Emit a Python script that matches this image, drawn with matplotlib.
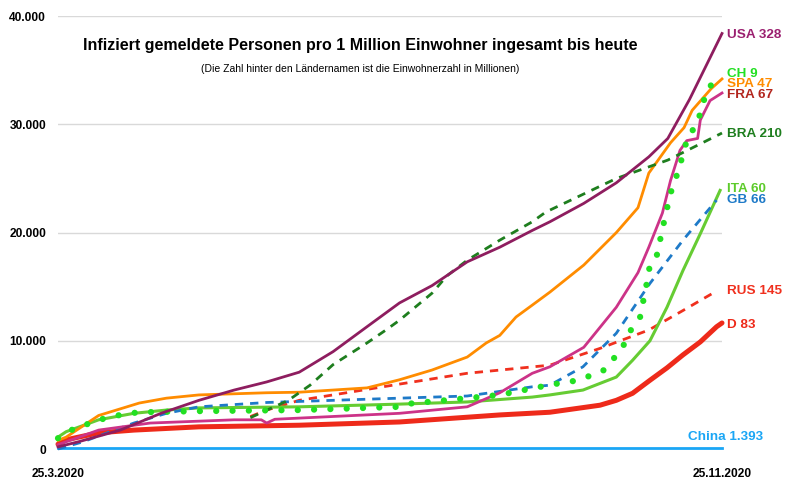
import matplotlib
matplotlib.use("Agg")
import matplotlib.pyplot as plt

plt.rcParams["font.family"] = ["Liberation Sans", "DejaVu Sans"]

# days since 25.3.2020 and infections per 1 million inhabitants
usa_days = [0, 8, 23, 38, 52, 65, 77, 89, 101.5, 114, 126, 138, 151, 163, 175, 181.5,
            194, 206, 218, 225, 233, 245]
usa_vals = [200, 700, 1750, 3300, 4500, 5450, 6200, 7100, 9000, 11300, 13500, 15100,
            17300, 18650, 20200, 21000, 22700, 24600, 27000, 28700, 32300, 38400]

bra_days = [71, 85, 93, 101.5, 114, 121, 126, 138, 143.5, 151, 163, 175, 180, 206, 225,
            245]
bra_vals = [2900, 4500, 5900, 7800, 9800, 11000, 11900, 14400, 16000, 17450, 19300,
            21000, 21900, 25000, 26700, 29200]

spa_days = [0, 3, 15, 30, 40, 52, 77, 89, 114, 126, 138, 151, 158, 163, 169, 175, 181.5,
            194, 206, 214, 218, 226, 231, 234, 241, 245]
spa_vals = [800, 1100, 3100, 4250, 4700, 5000, 5200, 5250, 5650, 6400, 7300, 8500, 9800,
            10500, 12200, 13300, 14500, 17000, 20000, 22300, 25500, 28300, 29700, 31300,
            33300, 34200]

fra_days = [0, 15, 34, 65, 75, 77, 80, 126, 151, 163, 175, 181.5, 194, 206, 214, 218,
            223, 226, 229.5, 232, 236, 237, 240.6, 245]
fra_vals = [400, 1750, 2400, 2700, 2700, 2400, 2750, 3300, 3900, 5200, 7000, 7600, 9400,
            13100, 16300, 18650, 21800, 24800, 27600, 28500, 28700, 30400, 32200, 32900]

ch_days = [0, 6, 18, 26, 31, 52, 89, 108, 126, 130, 151, 163, 169, 176, 183, 189, 195,
           201, 205.5, 208.5, 211.4, 214.7, 216, 217.3, 218.4, 221.4, 222.5, 224, 225.4,
           227, 229, 230.6, 232.5, 235.8, 237.6, 239.5, 243]
ch_vals = [1000, 1900, 2900, 3300, 3400, 3500, 3600, 3750, 3900, 4200, 4700, 5000, 5300,
           5650, 6000, 6200, 6650, 7200, 8500, 9500, 11000, 12100, 13750, 15400, 17000,
           18100, 19800, 21400, 23000, 24500, 25700, 27300, 28900, 30000, 31600, 33200,
           34200]

gb_days = [0, 9, 28, 40, 52, 77, 126, 151, 175, 181.5, 193.7, 206, 218.4, 230.6, 243]
gb_vals = [0, 650, 2400, 3300, 3900, 4300, 4700, 4900, 5750, 5900, 7600, 10700, 15300,
           19300, 23000]

ita_days = [0, 3, 15, 28, 40, 52, 89, 126, 151, 175, 181.5, 193.7, 206, 212, 218.4,
            224.7, 230.6, 237, 244.3]
ita_vals = [1100, 1600, 2700, 3300, 3600, 3800, 3900, 4150, 4350, 4800, 5000, 5450, 6650,
            8200, 10000, 13100, 16500, 19900, 23900]

rus_days = [71, 77, 85, 89, 101.5, 126, 151, 181.5, 200, 218, 230.6, 243]
rus_vals = [3000, 3600, 4200, 4500, 5000, 6000, 7000, 7750, 9300, 11000, 12800, 14600]

d_days = [0, 3, 15, 28, 52, 89, 126, 163, 181.5, 200, 206, 212, 218.4, 224.7, 230.6, 237,
          243, 245]
d_vals = [450, 850, 1500, 1750, 2050, 2200, 2500, 3150, 3400, 4050, 4500, 5150, 6350,
          7500, 8700, 9900, 11300, 11650]

china_days = [0, 245]
china_vals = [100, 100]

labels = ["USA 328", "CH 9", "SPA 47", "FRA 67", "BRA 210", "ITA 60", "GB 66",
          "RUS 145", "D 83"]
label_y = [38300, 34700, 33700, 32700, 29100, 24000, 23000, 14600, 11500]
label_colors = ["#9B2070", "#22E022", "#FF8C00", "#B3261E", "#1E7E1E", "#5DCB2B",
                "#1E7AC8", "#F0301E", "#EE2A1A"]

y_ticks = [0, 10000, 20000, 30000, 40000]
y_ticklabels = ["0", "10.000", "20.000", "30.000", "40.000"]
x_ticks = [0, 245]
x_ticklabels = ["25.3.2020", "25.11.2020"]

fig = plt.figure(figsize=(8, 4.93), dpi=100)
ax = fig.add_axes([0.0725, 0.0892, 0.83, 0.878])

ax.plot(china_days, china_vals, color="#1AA6F5", lw=2, clip_on=False, zorder=2)
ax.plot(d_days, d_vals, color="#EE2A1A", lw=3.6, solid_capstyle="round", clip_on=False)
ax.plot(rus_days, rus_vals, color="#F0301E", lw=2, ls=(0, (3, 2.5)), clip_on=False)
ax.plot(ita_days, ita_vals, color="#66CC33", lw=2.2, clip_on=False)
ax.plot(gb_days, gb_vals, color="#1E7AC8", lw=2, ls=(0, (3, 2.5)), clip_on=False)
ax.plot(fra_days, fra_vals, color="#CC3388", lw=2, clip_on=False)
ax.plot(spa_days, spa_vals, color="#FF8C00", lw=2, clip_on=False)
ax.plot(bra_days, bra_vals, color="#1E7E1E", lw=2, ls=(0, (3, 2.5)), clip_on=False)
ax.plot(ch_days, ch_vals, color="#22E022", lw=4.5, ls=(0, (0.01, 2.6)),
        dash_capstyle="round", clip_on=False)
ax.plot(usa_days, usa_vals, color="#8E1D5F", lw=2, clip_on=False)

for text, y, c in zip(labels, label_y, label_colors):
    ax.text(247, y, text, color=c, fontsize=9.7, fontweight="bold",
            ha="left", va="center")
ax.text(232.5, 1100, "China 1.393", color="#1AA6F5", fontsize=9.7,
        fontweight="bold", ha="left", va="center")

ax.set_xlim(0, 245)
ax.set_ylim(0, 40000)
ax.set_yticks(y_ticks)
ax.set_yticklabels(y_ticklabels, fontsize=8.6, fontweight="bold")
ax.set_xticks(x_ticks)
ax.set_xticklabels(x_ticklabels, fontsize=8.6, fontweight="bold")
ax.tick_params(length=0)
ax.tick_params(axis="y", pad=8.6)
ax.tick_params(axis="x", pad=14)
ax.grid(axis="y", color="#D9D9D9", lw=1)
ax.set_axisbelow(True)
for s in ax.spines.values():
    s.set_visible(False)

fig.text(0.45, 0.907, "Infiziert gemeldete Personen pro 1 Million Einwohner ingesamt bis heute",
         fontsize=11.5, fontweight="bold", ha="center", va="center")
fig.text(0.45, 0.86, "(Die Zahl hinter den Ländernamen ist die Einwohnerzahl in Millionen)",
         fontsize=7.5, ha="center", va="center")

fig.savefig("out.png", dpi=100)
